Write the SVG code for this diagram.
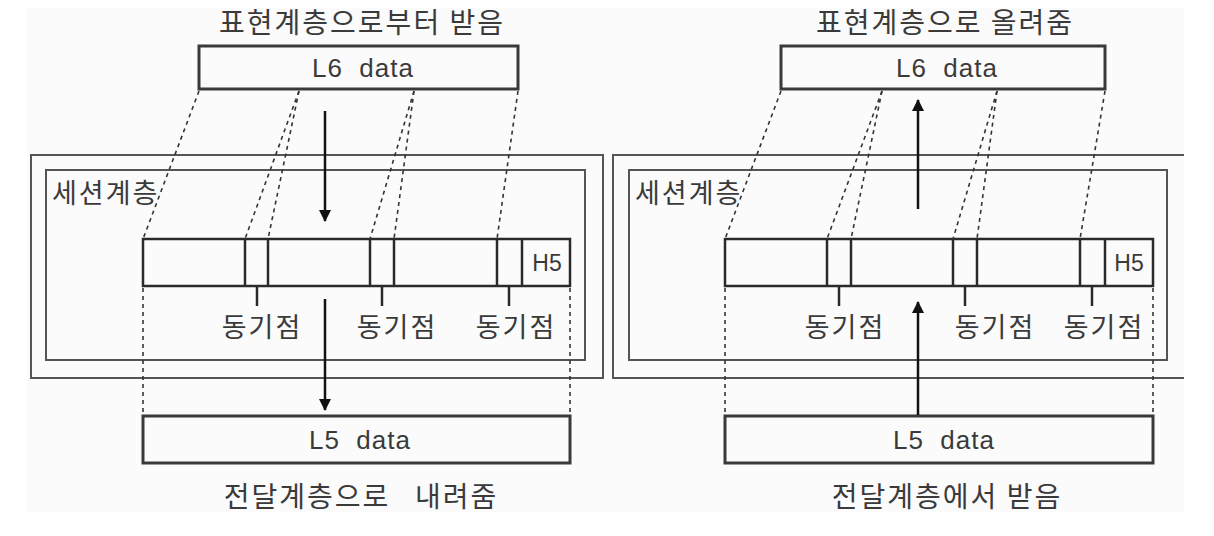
<svg xmlns="http://www.w3.org/2000/svg" width="1214" height="536" viewBox="0 0 1214 536">
<style>
.bg{fill:#fbfbfb}
.frame{fill:none;stroke:#555;stroke-width:2}
.box{fill:none;stroke:#3a3a3a;stroke-width:3}
.bar{fill:none;stroke:#2a2a2a;stroke-width:2.5}
.div{stroke:#2a2a2a;stroke-width:2.5}
.tick{stroke:#2a2a2a;stroke-width:2.5}
.dash{stroke:#333;stroke-width:1.6;stroke-dasharray:4 4;fill:none}
.arrow{stroke:#111;stroke-width:2.5;fill:none}
.ko{font-family:"Noto Sans CJK KR","Noto Sans",sans-serif;fill:#3a3a3a;letter-spacing:2px}
.t28{font-size:28px}
.t27{font-size:27px}
.lat{font-family:"Liberation Sans",Arial,sans-serif;fill:#3a3a3a;font-size:26px;letter-spacing:1px}
</style>
<defs>
<marker id="ah" viewBox="0 0 12 18" refX="11" refY="9" markerWidth="12" markerHeight="18" markerUnits="userSpaceOnUse" orient="auto">
<path d="M0,3 L12,9 L0,15 Z" fill="#111"/>
</marker>
</defs>
<rect class="bg" x="27" y="8" width="1157" height="504"/>

<!-- LEFT DIAGRAM -->
<g id="left-title">
<text class="ko t28" x="362" y="33" text-anchor="middle">표현계층으로부터 받음</text>
</g>
<g id="left-l6">
<rect class="box" x="199" y="46" width="319" height="43"/>
<text class="lat" x="363" y="77" text-anchor="middle" xml:space="preserve">L6  data</text>
</g>
<g id="left-session">
<rect class="frame" x="31" y="155" width="572" height="223"/>
<rect class="frame" x="46" y="170" width="539" height="190"/>
<text class="ko t27" x="52" y="203">세션계층</text>
</g>
<g id="left-bar">
<rect class="bar" x="143" y="239" width="427" height="47"/>
<line class="div" x1="245" y1="239" x2="245" y2="286"/>
<line class="div" x1="268" y1="239" x2="268" y2="286"/>
<line class="div" x1="370" y1="239" x2="370" y2="286"/>
<line class="div" x1="394" y1="239" x2="394" y2="286"/>
<line class="div" x1="497" y1="239" x2="497" y2="286"/>
<line class="div" x1="522" y1="239" x2="522" y2="286"/>
<text class="lat" x="547" y="271" text-anchor="middle" style="letter-spacing:0;font-size:23px">H5</text>
</g>
<g id="left-sync">
<line class="tick" x1="257" y1="286" x2="257" y2="306"/>
<line class="tick" x1="382" y1="286" x2="382" y2="306"/>
<line class="tick" x1="509" y1="286" x2="509" y2="306"/>
<text class="ko t27" x="262" y="337" text-anchor="middle">동기점</text>
<text class="ko t27" x="397" y="337" text-anchor="middle">동기점</text>
<text class="ko t27" x="516" y="337" text-anchor="middle">동기점</text>
</g>
<g id="left-l5">
<rect class="box" x="143" y="416" width="427" height="47"/>
<text class="lat" x="360" y="449" text-anchor="middle" xml:space="preserve">L5  data</text>
</g>
<g id="left-bottom-title">
<text class="ko t28" x="361" y="507" text-anchor="middle" xml:space="preserve">전달계층으로   내려줌</text>
</g>

<!-- RIGHT DIAGRAM -->
<g id="right-title">
<text class="ko t28" x="945" y="33" text-anchor="middle">표현계층으로 올려줌</text>
</g>
<g id="right-l6">
<rect class="box" x="781" y="46" width="324" height="43"/>
<text class="lat" x="947" y="77" text-anchor="middle" xml:space="preserve">L6  data</text>
</g>
<g id="right-session">
<polyline class="frame" points="1184,155 613,155 613,378 1184,378"/>
<rect class="frame" x="629" y="170" width="538" height="190"/>
<text class="ko t27" x="635" y="203">세션계층</text>
</g>
<g id="right-bar">
<rect class="bar" x="725" y="239" width="428" height="47"/>
<line class="div" x1="827" y1="239" x2="827" y2="286"/>
<line class="div" x1="851" y1="239" x2="851" y2="286"/>
<line class="div" x1="953" y1="239" x2="953" y2="286"/>
<line class="div" x1="977" y1="239" x2="977" y2="286"/>
<line class="div" x1="1080" y1="239" x2="1080" y2="286"/>
<line class="div" x1="1105" y1="239" x2="1105" y2="286"/>
<text class="lat" x="1129" y="271" text-anchor="middle" style="letter-spacing:0;font-size:23px">H5</text>
</g>
<g id="right-sync">
<line class="tick" x1="839" y1="286" x2="839" y2="306"/>
<line class="tick" x1="965" y1="286" x2="965" y2="306"/>
<line class="tick" x1="1092" y1="286" x2="1092" y2="306"/>
<text class="ko t27" x="845" y="337" text-anchor="middle">동기점</text>
<text class="ko t27" x="995" y="337" text-anchor="middle">동기점</text>
<text class="ko t27" x="1104" y="337" text-anchor="middle">동기점</text>
</g>
<g id="right-l5">
<rect class="box" x="725" y="416" width="428" height="47"/>
<text class="lat" x="944" y="449" text-anchor="middle" xml:space="preserve">L5  data</text>
</g>
<g id="right-bottom-title">
<text class="ko t28" x="947" y="507" text-anchor="middle">전달계층에서 받음</text>
</g>

<!-- CONNECTORS -->
<g id="connectors">
<line class="dash" x1="199" y1="91" x2="143" y2="239"/>
<line class="dash" x1="299" y1="91" x2="245" y2="239"/>
<line class="dash" x1="299" y1="91" x2="268" y2="239"/>
<line class="dash" x1="414" y1="91" x2="370" y2="239"/>
<line class="dash" x1="414" y1="91" x2="394" y2="239"/>
<line class="dash" x1="518" y1="91" x2="497" y2="239"/>
<line class="dash" x1="143" y1="288" x2="143" y2="415"/>
<line class="dash" x1="570" y1="288" x2="570" y2="415"/>
<line class="arrow" x1="325" y1="111" x2="325" y2="221" marker-end="url(#ah)"/>
<line class="arrow" x1="325" y1="299" x2="325" y2="410" marker-end="url(#ah)"/>

<line class="dash" x1="781" y1="91" x2="725" y2="239"/>
<line class="dash" x1="882" y1="91" x2="827" y2="239"/>
<line class="dash" x1="882" y1="91" x2="851" y2="239"/>
<line class="dash" x1="997" y1="91" x2="953" y2="239"/>
<line class="dash" x1="997" y1="91" x2="977" y2="239"/>
<line class="dash" x1="1105" y1="91" x2="1080" y2="239"/>
<line class="dash" x1="725" y1="288" x2="725" y2="415"/>
<line class="dash" x1="1153" y1="288" x2="1153" y2="415"/>
<line class="arrow" x1="918" y1="209" x2="918" y2="100" marker-end="url(#ah)"/>
<line class="arrow" x1="918" y1="415" x2="918" y2="302" marker-end="url(#ah)"/>
</g>
</svg>
